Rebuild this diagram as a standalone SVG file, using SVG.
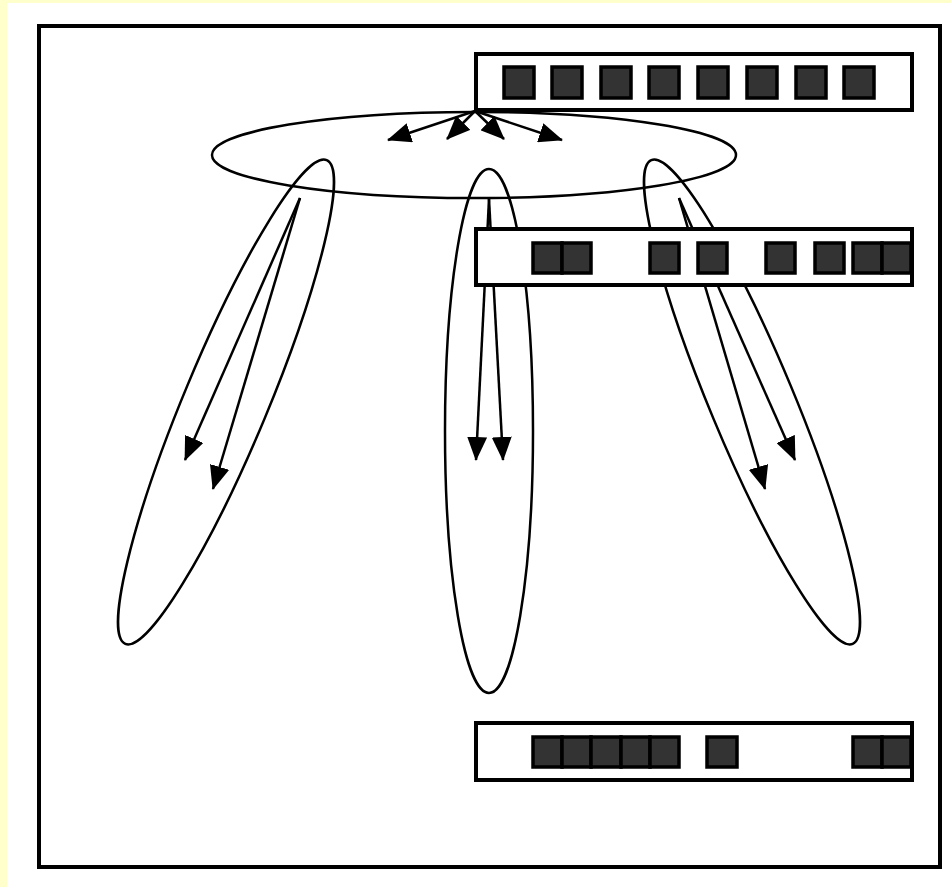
<svg xmlns="http://www.w3.org/2000/svg" width="951" height="887" viewBox="0 0 951 887">
  <defs>
    <marker id="head" viewBox="0 0 24 20" refX="23" refY="10" markerWidth="24" markerHeight="20" markerUnits="userSpaceOnUse" orient="auto">
      <path d="M0,0 L24,10 L0,20 Z" fill="#000"/>
    </marker>
    <style>
      .ell { fill: none; stroke: #000; stroke-width: 2.5; }
      .arr { fill: none; stroke: #000; stroke-width: 2.5; marker-end: url(#head); }
      .bar { fill: #fff; stroke: #000; stroke-width: 4; }
      .cell { fill: #333; stroke: #000; stroke-width: 3.5; }
    </style>
  </defs>

  <!-- page -->
  <rect x="0" y="0" width="951" height="887" fill="#ffffcc"/>
  <rect x="7" y="3" width="944" height="884" fill="#fff"/>
  <rect id="frame" x="39" y="26" width="901" height="841" fill="#fff" stroke="#000" stroke-width="4"/>

  <!-- groupings -->
  <g id="top-group"><ellipse class="ell" cx="474" cy="155" rx="262" ry="43"/></g>
  <g id="left-group"><ellipse class="ell" cx="226" cy="402" rx="42" ry="262" transform="rotate(22.6 226 402)"/></g>
  <g id="middle-group"><ellipse class="ell" cx="489" cy="431" rx="44" ry="262"/></g>
  <g id="right-group"><ellipse class="ell" cx="752" cy="402" rx="42" ry="262" transform="rotate(-22.6 752 402)"/></g>

  <!-- connectors -->
  <g id="connectors">
    <line class="arr" x1="475" y1="111" x2="388" y2="140"/>
    <line class="arr" x1="475" y1="111" x2="447" y2="139"/>
    <line class="arr" x1="475" y1="111" x2="504" y2="139"/>
    <line class="arr" x1="475" y1="111" x2="562" y2="140"/>
    <line class="arr" x1="300" y1="198" x2="185" y2="460"/>
    <line class="arr" x1="300" y1="198" x2="213" y2="489"/>
    <line class="arr" x1="489" y1="199" x2="476" y2="460"/>
    <line class="arr" x1="489" y1="199" x2="503" y2="460"/>
    <line class="arr" x1="679" y1="198" x2="765" y2="489"/>
    <line class="arr" x1="679" y1="198" x2="795" y2="460"/>
  </g>

  <!-- top bar -->
  <g id="bar-top">
    <rect class="bar" x="476" y="54" width="436" height="56"/>
    <rect class="cell" x="504" y="67" width="30" height="31"/>
    <rect class="cell" x="552" y="67" width="30" height="31"/>
    <rect class="cell" x="601" y="67" width="30" height="31"/>
    <rect class="cell" x="649" y="67" width="30" height="31"/>
    <rect class="cell" x="698" y="67" width="30" height="31"/>
    <rect class="cell" x="747" y="67" width="30" height="31"/>
    <rect class="cell" x="796" y="67" width="30" height="31"/>
    <rect class="cell" x="844" y="67" width="30" height="31"/>
  </g>

  <!-- middle bar -->
  <g id="bar-middle">
    <rect class="bar" x="476" y="229" width="436" height="56"/>
    <rect class="cell" x="533" y="243" width="29" height="30"/>
    <rect class="cell" x="562" y="243" width="29" height="30"/>
    <rect class="cell" x="650" y="243" width="29" height="30"/>
    <rect class="cell" x="698" y="243" width="29" height="30"/>
    <rect class="cell" x="766" y="243" width="29" height="30"/>
    <rect class="cell" x="815" y="243" width="29" height="30"/>
    <rect class="cell" x="853" y="243" width="29" height="30"/>
    <rect class="cell" x="882" y="243" width="29" height="30"/>
  </g>

  <!-- bottom bar -->
  <g id="bar-bottom">
    <rect class="bar" x="476" y="723" width="436" height="57"/>
    <rect class="cell" x="533" y="737" width="29" height="30"/>
    <rect class="cell" x="562" y="737" width="29" height="30"/>
    <rect class="cell" x="591" y="737" width="30" height="30"/>
    <rect class="cell" x="621" y="737" width="29" height="30"/>
    <rect class="cell" x="650" y="737" width="29" height="30"/>
    <rect class="cell" x="707" y="737" width="30" height="30"/>
    <rect class="cell" x="853" y="737" width="29" height="30"/>
    <rect class="cell" x="882" y="737" width="29" height="30"/>
  </g>
</svg>
